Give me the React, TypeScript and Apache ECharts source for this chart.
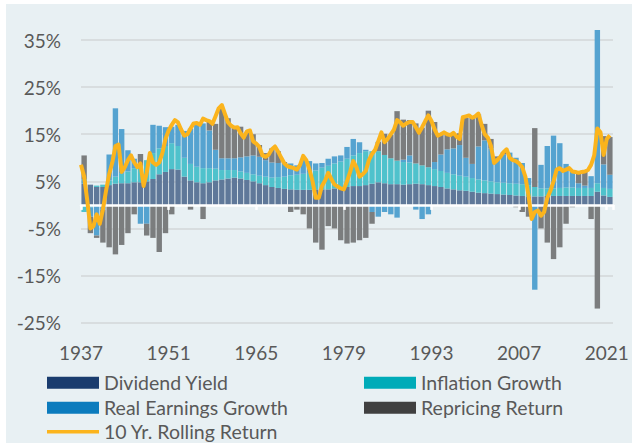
import React, { useEffect, useRef } from 'react';
import * as echarts from 'echarts';

const startYear = 1937;
const barYears = Array.from({ length: 85 }, (_, i) => String(startYear + i));

const dividendYield = [
  4.5, 4.3, 3.8, 3.8, 4.2, 4.5, 4.6, 4.6, 4.8, 4.8,
  5.0, 5.5, 6.5, 7.0, 7.6, 7.5, 6.0, 5.2, 4.8, 4.6,
  4.8, 5.2, 5.4, 5.6, 5.8, 5.6, 5.3, 5.0, 4.6, 4.2,
  3.8, 3.6, 3.4, 3.3, 3.2, 3.2, 3.2, 3.3, 3.3, 3.3,
  3.5, 3.6, 3.8, 4.0, 4.0, 4.2, 4.5, 4.8, 4.6, 4.4,
  4.4, 4.3, 4.4, 4.5, 4.4, 4.2, 4.0, 3.8, 3.5, 3.3,
  3.1, 3.0, 2.8, 2.6, 2.5, 2.4, 2.3, 2.2, 2.1, 2.0,
  1.9, 1.8, 1.8, 1.8, 1.9, 1.9, 1.9, 1.9, 1.9, 1.9,
  1.9, 1.9, 2.8, 2.0, 1.7,
];

const inflationGrowth = [
  -1.5, -0.5, 0.3, 0.5, 1.0, 1.5, 2.0, 2.5, 3.0, 3.5,
  4.5, 5.5, 5.5, 5.5, 5.5, 5.0, 4.0, 3.5, 3.3, 3.2,
  3.0, 2.5, 2.0, 1.8, 1.6, 1.5, 1.5, 1.5, 1.6, 1.8,
  2.0, 2.3, 2.6, 3.0, 3.2, 3.4, 3.6, 4.0, 4.6, 5.0,
  5.3, 5.6, 6.0, 6.5, 7.0, 7.2, 6.9, 6.6, 6.0, 5.5,
  5.0, 4.8, 4.6, 4.3, 4.0, 3.8, 3.6, 3.4, 3.3, 3.2,
  3.1, 3.0, 2.9, 2.8, 2.7, 2.6, 2.5, 2.5, 2.5, 2.5,
  2.5, 2.4, 2.0, 1.7, 1.6, 1.6, 1.7, 1.8, 1.8, 1.7,
  1.7, 1.7, 1.8, 1.6, 1.7,
];

const realEarningsGrowth = [
  1.0, -2.0, -6.5, -1.0, 5.5, 14.5, 9.5, 4.5, 2.0, -4.0,
  -4.0, 6.0, 4.8, 4.0, 3.5, 4.5, 5.7, 7.5, 9.0, 9.5,
  8.0, 4.0, 2.5, 2.5, 2.5, 3.0, 3.5, 4.0, 4.0, 3.5,
  3.2, 3.0, 2.8, 2.5, 2.0, 3.0, 2.5, 1.5, 1.0, 1.5,
  1.5, 1.3, 2.5, 3.5, 2.3, 0.3, -1.5, -2.5, -1.5, -2.0,
  -2.7, 0.5, 1.5, -1.0, -3.0, -2.0, 1.5, 3.5, 5.0, 5.5,
  6.5, 4.0, 3.0, 7.0, 8.5, 7.0, 5.0, 6.0, 6.5, 5.5,
  4.5, 1.5, -18.0, 5.0, 9.0, 11.2, 9.5, 5.0, 3.5, 1.0,
  0.5, 2.5, 32.5, 5.0, 3.0,
];

const repricingReturn = [
  5.0, -3.5, -0.5, -7.0, -9.0, -10.5, -8.5, -6.0, -2.0, 2.5,
  -2.5, -7.0, -10.0, -6.0, -2.0, 0.0, 0.0, -1.0, 0.0, -3.0,
  2.0, 5.5, 10.5, 8.5, 6.8, 6.5, 5.0, 4.5, 2.5, 1.5,
  3.0, 2.5, 0.3, -1.5, -1.0, -2.0, -5.0, -8.0, -9.5, -4.5,
  -5.0, -7.5, -8.2, -8.0, -7.5, -7.0, -2.5, 2.0, 4.5, 5.0,
  10.5, 8.5, 7.5, 8.5, 8.0, 12.0, 8.5, 4.3, 3.2, 3.0,
  2.5, 8.5, 10.0, 6.8, 3.5, 2.0, 0.5, 0.5, 0.0, -0.5,
  -1.5, -2.5, 12.5, -5.0, -8.0, -11.5, -9.0, -4.0, -0.5, 2.5,
  3.0, -3.0, -22.0, 6.0, 8.0,
];

// 10-year rolling return, sampled every half year from 1937.0
const rollingReturn = [
  8.5, 6.0, 1.0, -5.0, -4.5, -2.0, -4.0, -1.0, 3.0, 6.5,
  9.0, 12.5, 12.8, 7.0, 8.0, 9.5, 10.5, 9.0, 8.0, 8.8,
  4.0, 6.8, 11.0, 9.0, 8.5, 9.0, 11.0, 14.0, 15.8, 17.0,
  18.0, 17.5, 16.0, 14.7, 15.0, 16.2, 17.3, 17.4, 17.0, 18.3,
  18.0, 17.8, 17.2, 18.8, 20.5, 21.2, 19.3, 17.5, 16.8, 16.4,
  16.5, 15.2, 14.3, 15.6, 15.8, 13.5, 13.0, 12.3, 10.5, 10.2,
  10.7, 11.8, 12.4, 11.3, 10.0, 8.8, 8.2, 8.0, 7.8, 7.5,
  8.5, 10.4, 9.5, 7.5, 5.0, 1.5, 1.5, 4.0, 5.2, 6.8,
  5.5, 4.3, 3.9, 3.5, 3.3, 5.0, 7.0, 9.3, 8.0, 6.0,
  6.5, 7.2, 9.5, 10.8, 11.7, 13.5, 15.4, 13.3, 14.0, 15.0,
  16.0, 18.0, 17.5, 16.8, 17.3, 17.6, 17.6, 16.5, 15.3, 16.5,
  17.8, 19.0, 17.8, 16.0, 14.7, 15.0, 15.4, 15.0, 14.8, 15.3,
  14.5, 14.0, 18.6, 18.8, 19.0, 18.5, 18.8, 19.4, 17.0, 15.0,
  14.3, 12.5, 8.9, 9.5, 10.2, 11.2, 11.8, 10.0, 9.5, 9.3,
  8.8, 8.0, 6.0, 2.0, -3.0, -1.5, -1.2, -2.3, -1.5, 1.5,
  3.0, 5.0, 7.5, 7.8, 7.2, 7.5, 7.8, 7.1, 7.0, 6.8,
  7.0, 7.1, 7.4, 8.5, 10.5, 16.2, 15.4, 10.6, 14.0, 14.8,
];
const rollingYears = rollingReturn.map((_, i) => startYear + i * 0.5);

const xTickLabels = ['1937', '1951', '1965', '1979', '1993', '2007', '2021'];

const FONT = 'Lato';
const TEXT = '#595959';

const seriesDefs = [
  { name: 'Dividend Yield', data: dividendYield, bar: '#5f7899', legend: '#1a3c6e' },
  { name: 'Inflation Growth', data: inflationGrowth, bar: '#4fc2cc', legend: '#00abb8' },
  { name: 'Real Earnings Growth', data: realEarningsGrowth, bar: '#55a3d0', legend: '#0b7bbd' },
  { name: 'Repricing Return', data: repricingReturn, bar: '#7b7d7e', legend: '#404040' },
];
const LINE_NAME = '10 Yr. Rolling Return';
const LINE_COLOR = '#fbb41d';

function legendFor(name: string, color: string, left: number, top: number, isLine = false) {
  return {
    show: true,
    selectedMode: false,
    left,
    top,
    padding: 0,
    orient: 'horizontal',
    itemWidth: 52,
    itemHeight: isLine ? 3.5 : 12,
    icon: 'rect',
    itemStyle: { color, opacity: 1, borderWidth: 0 },
    textStyle: { fontFamily: FONT, fontSize: 19.5, color: TEXT, lineHeight: 20, padding: [0, 0, 0, 0] },
    data: [{ name, icon: 'rect', itemStyle: { color, opacity: 1, borderWidth: 0 } }],
  };
}

export default function App() {
  const ref = useRef<HTMLDivElement>(null);
  useEffect(() => {
    if (!ref.current) return;
    const chart = echarts.init(ref.current, null, { renderer: 'svg' });
    const barSeries = seriesDefs.map((s) => ({
      type: 'bar',
      name: s.name,
      stack: 'total',
      xAxisIndex: 2,
      barWidth: 5.4,
      clip: false,
      z: 2,
      itemStyle: { color: s.bar },
      emphasis: { disabled: true },
      data: s.data,
    }));
    const option: any = {
      animation: false,
      backgroundColor: '#e8f0f3',
      textStyle: { fontFamily: FONT },
      grid: { left: 75, right: 19, top: 36, bottom: 120.3, containLabel: false },
      legend: [
        legendFor('Dividend Yield', '#1a3c6e', 41, 368.7),
        legendFor('Inflation Growth', '#00abb8', 358, 368.7),
        legendFor('Real Earnings Growth', '#0b7bbd', 41, 393.7),
        legendFor('Repricing Return', '#404040', 358, 393.7),
        legendFor(LINE_NAME, LINE_COLOR, 41, 417.7, true),
      ],
      xAxis: [
        {
          type: 'value',
          min: 1937,
          max: 2022,
          interval: 14,
          position: 'bottom',
          axisLine: { show: false, onZero: false },
          axisTick: { show: false },
          splitLine: { show: false },
          axisLabel: {
            margin: 20,
            fontFamily: FONT,
            fontSize: 19,
            color: TEXT,
            showMaxLabel: false,
            formatter: (v: number) => (xTickLabels.includes(String(v)) ? String(v) : ''),
          },
        },
        {
          type: 'value',
          min: 1937,
          max: 2022,
          interval: 14,
          position: 'top',
          z: 5,
          axisLine: { show: true, onZero: true, lineStyle: { color: '#ffffff', width: 2.5 } },
          axisTick: { show: true, inside: true, length: 5, lineStyle: { color: '#ffffff', width: 2.5 } },
          axisLabel: { show: false },
          splitLine: { show: false },
        },
        {
          type: 'category',
          data: barYears,
          boundaryGap: true,
          position: 'bottom',
          axisLine: { show: false, onZero: false },
          axisTick: { show: false },
          axisLabel: { show: false },
          splitLine: { show: false },
        },
      ],
      yAxis: {
        type: 'value',
        min: -25,
        max: 35,
        interval: 10,
        axisLine: { show: false },
        axisTick: { show: false },
        splitLine: { show: true, lineStyle: { color: '#d3d7d9', width: 1.5 } },
        axisLabel: {
          margin: 20,
          fontFamily: FONT,
          fontSize: 19,
          color: TEXT,
          formatter: (v: number) => `${v}%`,
        },
      },
      series: [
        ...barSeries,
        {
          type: 'line',
          name: LINE_NAME,
          xAxisIndex: 0,
          color: LINE_COLOR,
          z: 6,
          showSymbol: false,
          symbol: 'none',
          itemStyle: { color: LINE_COLOR },
          lineStyle: { color: LINE_COLOR, width: 4, join: 'round' },
          emphasis: { disabled: true },
          data: rollingYears.map((y, i) => [y, rollingReturn[i]]),
        },
      ],
    };
    chart.setOption(option);
    return () => chart.dispose();
  }, []);
  return (
    <div style={{ position: 'fixed', left: 0, top: 0, width: 632, height: 446, background: '#ffffff' }}>
      <div ref={ref} style={{ position: 'absolute', left: 6, top: 4, width: 626, height: 439 }} />
    </div>
  );
}
